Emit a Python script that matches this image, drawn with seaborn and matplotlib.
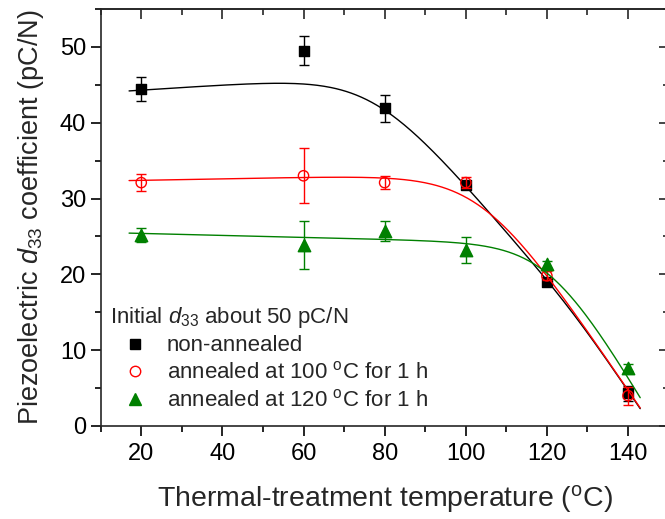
import numpy as np
import matplotlib
matplotlib.use("Agg")
import matplotlib.pyplot as plt
from matplotlib.lines import Line2D
from matplotlib.ticker import MultipleLocator
import seaborn as sns

# Measured d33 (pC/N) after each thermal treatment, with error bars
temperature = [20, 60, 80, 100, 120, 140]
d33_non_annealed = [44.4, 49.5, 41.9, 31.8, 19.0, 4.3]
err_non_annealed = [1.6, 1.9, 1.8, 0.5, 0.5, 1.0]
d33_annealed_100 = [32.1, 33.0, 32.1, 32.1, 19.8, 4.0]
err_annealed_100 = [1.1, 3.6, 0.9, 0.7, 0.6, 1.2]
d33_annealed_120 = [25.2, 23.9, 25.7, 23.2, 21.3, 7.7]
err_annealed_120 = [0.9, 3.2, 1.3, 1.75, 0.4, 0.5]

series_labels = [
    "non-annealed",
    r"annealed at 100 $^{\mathrm{o}}$C for 1 h",
    r"annealed at 120 $^{\mathrm{o}}$C for 1 h",
]
legend_title = r"Initial $d_{33}$ about 50 pC/N"

# Smooth trend lines: level at 20 degC, initial slope, and softened
# slope changes given as (position, slope change, width)
fit_range = (17.0, 143.0)
fit_non_annealed = dict(level=44.3, slope=0.035, knees=[(77, -0.66, 8), (127, -0.17, 5)])
fit_annealed_100 = dict(level=32.4, slope=0.01, knees=[(104, -0.80, 8)])
fit_annealed_120 = dict(level=25.4, slope=-0.013, knees=[(121, -0.90, 7)])


def trend(x, level, slope, knees):
    y = level + slope * (x - 20.0)
    for xk, ds, w in knees:
        y = y + ds * w * np.logaddexp(0.0, (x - xk) / w)
    return y


sns.set_theme(style="ticks")
plt.rcParams.update({
    "font.family": ["Liberation Sans", "DejaVu Sans"],
    "mathtext.fontset": "custom",
    "mathtext.rm": "Liberation Sans",
    "mathtext.it": "Liberation Sans:italic",
    "mathtext.bf": "Liberation Sans:bold",
    "axes.linewidth": 1.2,
})

fig = plt.figure(figsize=(6.65, 5.19), dpi=100)
ax = fig.add_axes([0.1514, 0.1792, 0.854, 0.8035])

series = [
    (d33_non_annealed, err_non_annealed, fit_non_annealed, "black", "s", 49, True),
    (d33_annealed_100, err_annealed_100, fit_annealed_100, "red", "o", 55, False),
    (d33_annealed_120, err_annealed_120, fit_annealed_120, "green", "^", 80, True),
]

xs = np.linspace(fit_range[0], fit_range[1], 300)
for i, (vals, errs, fit, color, marker, size, filled) in enumerate(series):
    z = 2 + 3 * i
    sns.lineplot(x=xs, y=trend(xs, **fit), ax=ax, color=color, lw=1.0,
                 zorder=z, legend=False)
    ax.errorbar(temperature, vals, yerr=errs, fmt="none", ecolor=color,
                elinewidth=1.0, capsize=3.5, capthick=1.0, zorder=z + 1)
    sns.scatterplot(x=temperature, y=vals, ax=ax, marker=marker, s=size,
                    color=color, edgecolor=color, linewidth=1.0,
                    zorder=z + 2, legend=False)
    if not filled:
        ax.collections[-1].set_facecolor("none")

ax.set_xlim(10, 150)
ax.set_ylim(0, 55)
ax.xaxis.set_major_locator(MultipleLocator(20))
ax.xaxis.set_minor_locator(MultipleLocator(10))
ax.yaxis.set_major_locator(MultipleLocator(10))
ax.yaxis.set_minor_locator(MultipleLocator(5))
ax.tick_params(which="both", direction="out", width=1.2, colors="black",
               labelsize=17, top=False, right=False)
ax.tick_params(which="major", length=7)
ax.tick_params(which="minor", length=4)
ax.tick_params(axis="x", pad=5)

# inward ticks on the top and right frame
top = ax.secondary_xaxis("top")
top.xaxis.set_major_locator(MultipleLocator(20))
top.xaxis.set_minor_locator(MultipleLocator(10))
top.tick_params(which="both", direction="in", width=1.2, labeltop=False)
top.tick_params(which="major", length=7)
top.tick_params(which="minor", length=4)
right = ax.secondary_yaxis("right")
right.yaxis.set_major_locator(MultipleLocator(10))
right.yaxis.set_minor_locator(MultipleLocator(5))
right.tick_params(which="both", direction="in", width=1.2, labelright=False)
right.tick_params(which="major", length=7)
right.tick_params(which="minor", length=4)
for sp in top.spines.values():
    sp.set_linewidth(1.2)
for sp in right.spines.values():
    sp.set_visible(False)

ax.set_xlabel(r"Thermal-treatment temperature ($^{\mathrm{o}}$C)", fontsize=20.5, labelpad=13)
ax.set_ylabel(r"Piezoelectric $d_{33}$ coefficient (pC/N)", fontsize=19.5, labelpad=10)

handles = [
    Line2D([], [], ls="none", marker="s", ms=7, color="black"),
    Line2D([], [], ls="none", marker="o", ms=7.5, mfc="none", mec="red", mew=1.0),
    Line2D([], [], ls="none", marker="^", ms=9, color="green"),
]
ax.legend(handles, series_labels, title=legend_title, loc="lower left",
          bbox_to_anchor=(0.017, 0.035), frameon=False, fontsize=16,
          title_fontsize=16, handlelength=2.25, handletextpad=0.3,
          labelspacing=0.25, borderpad=0, borderaxespad=0, alignment="left")

fig.savefig("out.png", dpi=100)
